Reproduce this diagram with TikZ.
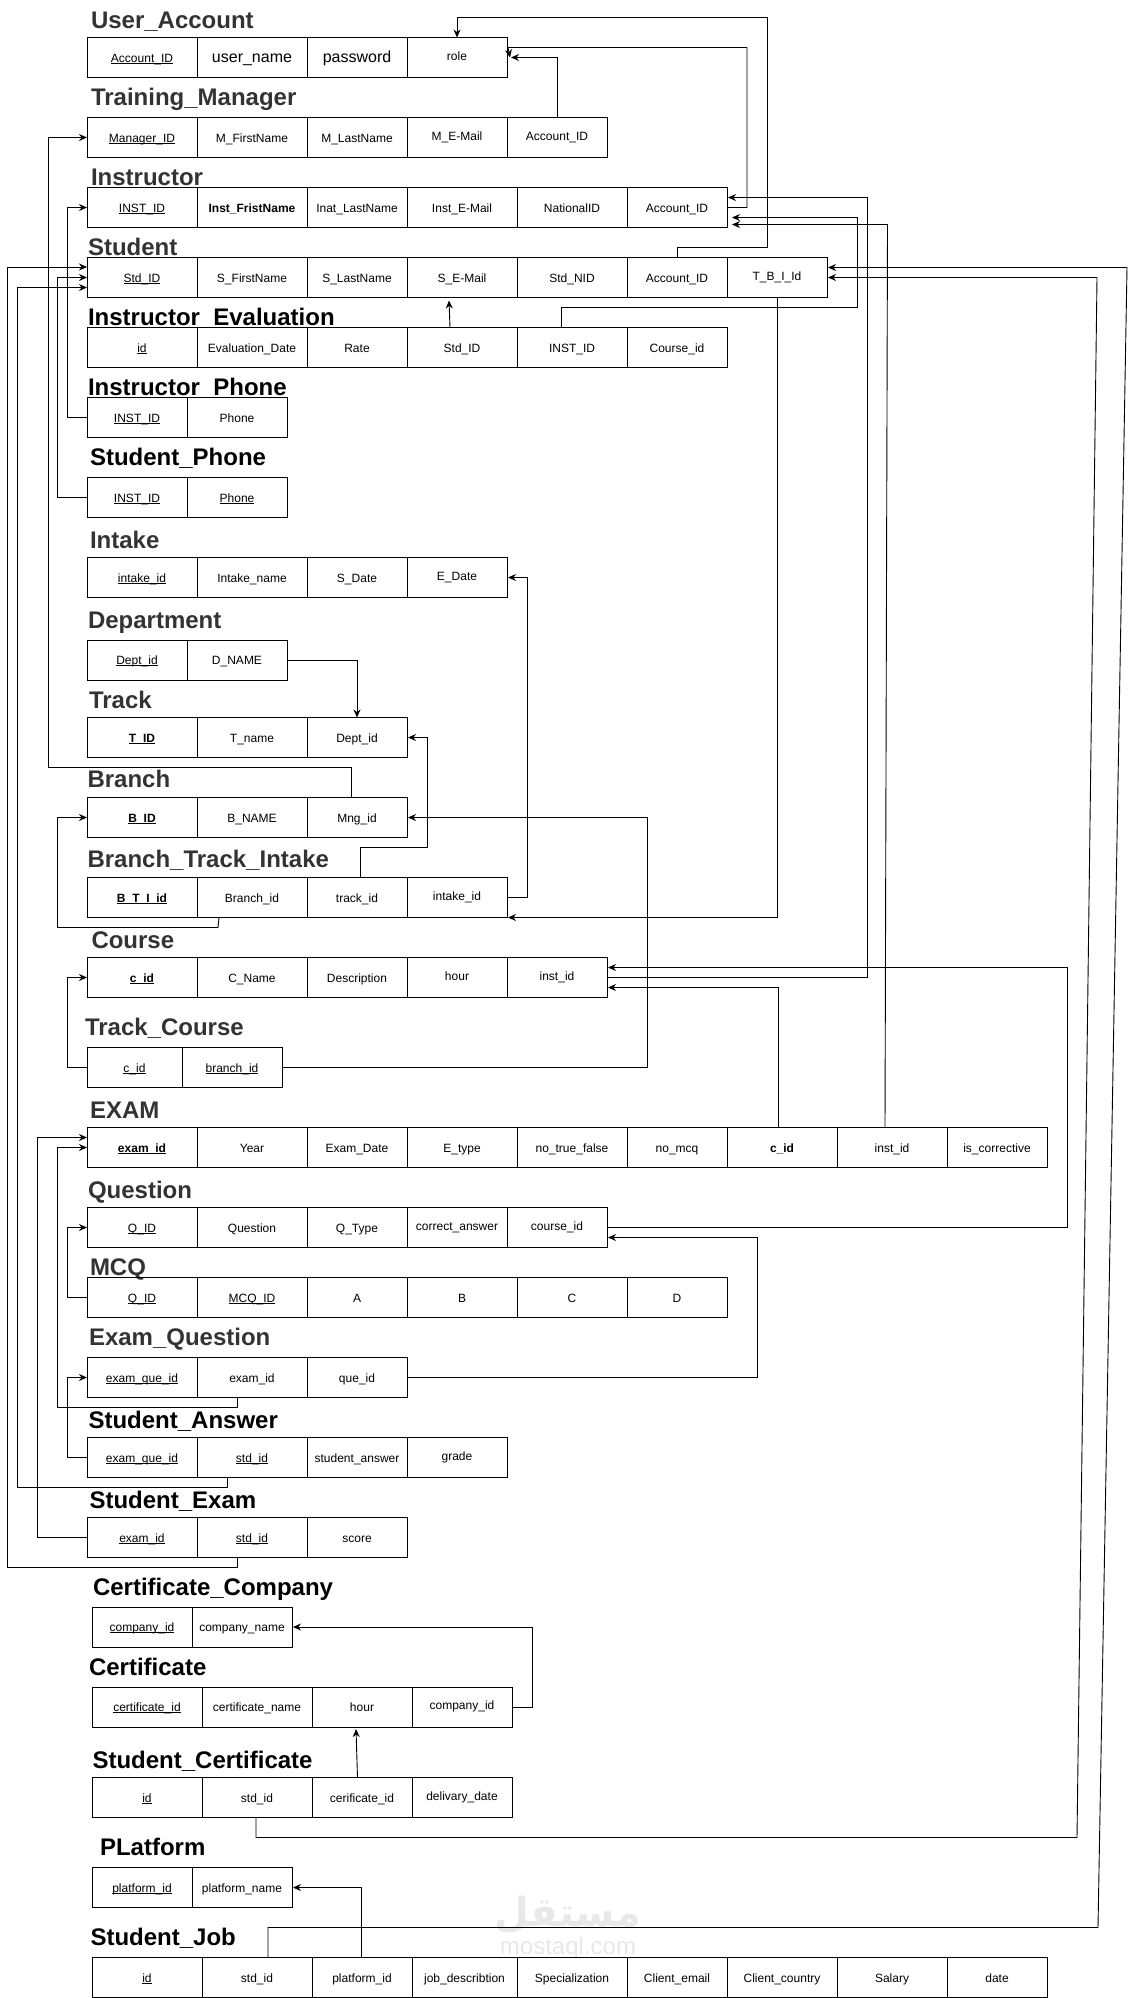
\documentclass[tikz,border=0pt]{standalone}
\usepackage{fontspec}
\setmainfont{Liberation Sans}
\newfontfamily\arabicfont[Script=Arabic]{DejaVu Sans}
\TeXXeTstate=1
\usepackage{xcolor}
\usepackage{tikz}
\usetikzlibrary{arrows.meta, calc}
\definecolor{titlegrey}{RGB}{51,51,51}
\definecolor{markgrey}{RGB}{232,232,232}
\newcommand{\keyattr}[1]{\leavevmode\setbox0\hbox{#1}\rlap{\rule[-1.7pt]{\wd0}{0.8pt}}\box0}
\tikzset{
  cell/.style={rectangle, draw=black, anchor=north west, minimum height=40pt, minimum width=#1pt,
    inner sep=0pt, outer sep=0pt, align=center, font=\fontsize{12}{14}\selectfont, line width=0.9pt,
    text height=11pt, text depth=2pt},
  raised/.style={text height=7pt},
  bigfont/.style={font=\fontsize{16}{18}\selectfont},
  tabletitle/.style={anchor=base west, inner sep=0pt, outer sep=0pt, font=\fontsize{24}{28}\selectfont\bfseries, color=black},
  greytitle/.style={tabletitle, color=titlegrey},
  arrow/.style={-{Stealth[length=8pt,width=7pt]}, line width=0.9pt, color=black},
}

\begin{document}
\begin{tikzpicture}[x=1pt, y=-1pt]
  \useasboundingbox (0,0) rectangle (1136,1998);
  % watermark
  \node[anchor=base, inner sep=0pt, color=markgrey, font=\fontsize{40}{44}\selectfont\bfseries] (markar) at (568,1926) {\arabicfont\beginR مستقل\endR};
  \node[anchor=base, inner sep=0pt, color=markgrey, font=\fontsize{24}{28}\selectfont] (marklat) at (568,1954) {mostaql.com};
  % User_Account
  \node[greytitle] (tua) at (91,28) {User\_Account};
  \node[cell=110] (uaid) at (87,37.5) {\keyattr{Account\_ID}};
  \node[cell=110, bigfont] (uaname) at (197,37.5) {user\_name};
  \node[cell=100, bigfont] (uapass) at (307,37.5) {password};
  \node[cell=100, raised] (uarole) at (407,37.5) {role};
  % Training_Manager
  \node[greytitle] (ttm) at (91,105.5) {Training\_Manager};
  \node[cell=110] (mgid) at (87,117.5) {\keyattr{Manager\_ID}};
  \node[cell=110] (mgfirst) at (197,117.5) {M\_FirstName};
  \node[cell=100] (mglast) at (307,117.5) {M\_LastName};
  \node[cell=100, raised] (mgmail) at (407,117.5) {M\_E-Mail};
  \node[cell=100, raised] (mgacct) at (507,117.5) {Account\_ID};
  % Instructor
  \node[greytitle] (tin) at (91,185.5) {Instructor};
  \node[cell=110] (iid) at (87,187.5) {\keyattr{INST\_ID}};
  \node[cell=110, font=\fontsize{12}{14}\selectfont\bfseries] (ifirst) at (197,187.5) {Inst\_FristName};
  \node[cell=100] (ilast) at (307,187.5) {Inat\_LastName};
  \node[cell=110] (imail) at (407,187.5) {Inst\_E-Mail};
  \node[cell=110] (inat) at (517,187.5) {NationalID};
  \node[cell=100] (iacct) at (627,187.5) {Account\_ID};
  % Student
  \node[greytitle] (tst) at (88,255) {Student};
  \node[cell=110] (sid) at (87,257.5) {\keyattr{Std\_ID}};
  \node[cell=110] (sfirst) at (197,257.5) {S\_FirstName};
  \node[cell=100] (slast) at (307,257.5) {S\_LastName};
  \node[cell=110] (smail) at (407,257.5) {S\_E-Mail};
  \node[cell=110] (snid) at (517,257.5) {Std\_NID};
  \node[cell=100] (sacct) at (627,257.5) {Account\_ID};
  \node[cell=100, raised] (stbi) at (727,257.5) {T\_B\_I\_Id};
  % Instructor_Evaluation
  \node[tabletitle] (tie) at (88,325) {Instructor\_Evaluation};
  \node[cell=110] (ieid) at (87,327.5) {\keyattr{id}};
  \node[cell=110] (iedate) at (197,327.5) {Evaluation\_Date};
  \node[cell=100] (ierate) at (307,327.5) {Rate};
  \node[cell=110] (iestd) at (407,327.5) {Std\_ID};
  \node[cell=110] (ieinst) at (517,327.5) {INST\_ID};
  \node[cell=100] (iecourse) at (627,327.5) {Course\_id};
  % Instructor_Phone
  \node[tabletitle] (tip) at (88,395) {Instructor\_Phone};
  \node[cell=100] (ipid) at (87,397.5) {\keyattr{INST\_ID}};
  \node[cell=100] (ipphone) at (187,397.5) {Phone};
  % Student_Phone
  \node[tabletitle] (tsp) at (90,465) {Student\_Phone};
  \node[cell=100] (spid) at (87,477.5) {\keyattr{INST\_ID}};
  \node[cell=100] (spphone) at (187,477.5) {\keyattr{Phone}};
  % Intake
  \node[greytitle] (tik) at (90,548) {Intake};
  \node[cell=110] (inid) at (87,557.5) {\keyattr{intake\_id}};
  \node[cell=110] (inname) at (197,557.5) {Intake\_name};
  \node[cell=100] (insdate) at (307,557.5) {S\_Date};
  \node[cell=100, raised] (inedate) at (407,557.5) {E\_Date};
  % Department
  \node[greytitle] (tdp) at (88,628) {Department};
  \node[cell=100] (did) at (87,640) {\keyattr{Dept\_id}};
  \node[cell=100] (dname) at (187,640) {D\_NAME};
  % Track
  \node[greytitle] (ttr) at (89,708) {Track};
  \node[cell=110, font=\fontsize{12}{14}\selectfont\bfseries] (tid) at (87,717.5) {\keyattr{T\_ID}};
  \node[cell=110] (tname) at (197,717.5) {T\_name};
  \node[cell=100] (tdept) at (307,717.5) {Dept\_id};
  % Branch
  \node[greytitle] (tbr) at (87.5,787.5) {Branch};
  \node[cell=110, font=\fontsize{12}{14}\selectfont\bfseries] (bid) at (87,797.5) {\keyattr{B\_ID}};
  \node[cell=110] (bname) at (197,797.5) {B\_NAME};
  \node[cell=100] (bmng) at (307,797.5) {Mng\_id};
  % Branch_Track_Intake
  \node[greytitle] (tbt) at (87.5,867.5) {Branch\_Track\_Intake};
  \node[cell=110, font=\fontsize{12}{14}\selectfont\bfseries] (btiid) at (87,877.5) {\keyattr{B\_T\_I\_id}};
  \node[cell=110] (btibranch) at (197,877.5) {Branch\_id};
  \node[cell=100] (btitrack) at (307,877.5) {track\_id};
  \node[cell=100, raised] (btiintake) at (407,877.5) {intake\_id};
  % Course
  \node[greytitle] (tco) at (91.5,948) {Course};
  \node[cell=110, font=\fontsize{12}{14}\selectfont\bfseries] (cid) at (87,957.5) {\keyattr{c\_id}};
  \node[cell=110] (cname) at (197,957.5) {C\_Name};
  \node[cell=100] (cdesc) at (307,957.5) {Description};
  \node[cell=100, raised] (chour) at (407,957.5) {hour};
  \node[cell=100, raised] (cinst) at (507,957.5) {inst\_id};
  % Track_Course
  \node[greytitle] (ttc) at (85,1035) {Track\_Course};
  \node[cell=95] (tccid) at (87,1047.5) {\keyattr{c\_id}};
  \node[cell=100] (tcbranch) at (182,1047.5) {\keyattr{branch\_id}};
  % EXAM
  \node[greytitle] (tex) at (90,1118) {EXAM};
  \node[cell=110, font=\fontsize{12}{14}\selectfont\bfseries] (eid) at (87,1127.5) {\keyattr{exam\_id}};
  \node[cell=110] (eyear) at (197,1127.5) {Year};
  \node[cell=100] (edate) at (307,1127.5) {Exam\_Date};
  \node[cell=110] (etype) at (407,1127.5) {E\_type};
  \node[cell=110] (etf) at (517,1127.5) {no\_true\_false};
  \node[cell=100] (emcq) at (627,1127.5) {no\_mcq};
  \node[cell=110, font=\fontsize{12}{14}\selectfont\bfseries] (ecid) at (727,1127.5) {c\_id};
  \node[cell=110] (einst) at (837,1127.5) {inst\_id};
  \node[cell=100] (ecorr) at (947,1127.5) {is\_corrective};
  % Question
  \node[greytitle] (tqu) at (88,1198) {Question};
  \node[cell=110] (qid) at (87,1207.5) {\keyattr{Q\_ID}};
  \node[cell=110] (qtext) at (197,1207.5) {Question};
  \node[cell=100] (qtype) at (307,1207.5) {Q\_Type};
  \node[cell=100, raised] (qans) at (407,1207.5) {correct\_answer};
  \node[cell=100, raised] (qcourse) at (507,1207.5) {course\_id};
  % MCQ
  \node[greytitle] (tmc) at (90,1275) {MCQ};
  \node[cell=110] (mqid) at (87,1277.5) {\keyattr{Q\_ID}};
  \node[cell=110] (mcid) at (197,1277.5) {\keyattr{MCQ\_ID}};
  \node[cell=100] (mca) at (307,1277.5) {A};
  \node[cell=110] (mcb) at (407,1277.5) {B};
  \node[cell=110] (mcc) at (517,1277.5) {C};
  \node[cell=100] (mcd) at (627,1277.5) {D};
  % Exam_Question
  \node[greytitle] (teq) at (89,1345) {Exam\_Question};
  \node[cell=110] (eqid) at (87,1357.5) {\keyattr{exam\_que\_id}};
  \node[cell=110] (eqexam) at (197,1357.5) {exam\_id};
  \node[cell=100] (eqque) at (307,1357.5) {que\_id};
  % Student_Answer
  \node[tabletitle] (tsa) at (88.5,1428.5) {Student\_Answer};
  \node[cell=110] (saque) at (87,1437.5) {\keyattr{exam\_que\_id}};
  \node[cell=110] (sastd) at (197,1437.5) {\keyattr{std\_id}};
  \node[cell=100] (saans) at (307,1437.5) {student\_answer};
  \node[cell=100, raised] (sagrade) at (407,1437.5) {grade};
  % Student_Exam
  \node[tabletitle] (tse) at (89.5,1508.5) {Student\_Exam};
  \node[cell=110] (seexam) at (87,1517.5) {\keyattr{exam\_id}};
  \node[cell=110] (sestd) at (197,1517.5) {\keyattr{std\_id}};
  \node[cell=100] (sescore) at (307,1517.5) {score};
  % Certificate_Company
  \node[tabletitle] (tcc) at (93,1595) {Certificate\_Company};
  \node[cell=100] (ccid) at (92,1607) {\keyattr{company\_id}};
  \node[cell=100] (ccname) at (192,1607) {company\_name};
  % Certificate
  \node[tabletitle] (tce) at (89,1675) {Certificate};
  \node[cell=110] (ceid) at (92,1687) {\keyattr{certificate\_id}};
  \node[cell=110] (cename) at (202,1687) {certificate\_name};
  \node[cell=100] (cehour) at (312,1687) {hour};
  \node[cell=100, raised] (cecomp) at (412,1687) {company\_id};
  % Student_Certificate
  \node[tabletitle] (tsc) at (92.5,1768.5) {Student\_Certificate};
  \node[cell=110] (scid) at (92,1777.5) {\keyattr{id}};
  \node[cell=110] (scstd) at (202,1777.5) {std\_id};
  \node[cell=100] (sccert) at (312,1777.5) {cerificate\_id};
  \node[cell=100, raised] (scdate) at (412,1777.5) {delivary\_date};
  % PLatform
  \node[tabletitle] (tpl) at (100,1855) {PLatform};
  \node[cell=100] (plid) at (92,1867.5) {\keyattr{platform\_id}};
  \node[cell=100] (plname) at (192,1867.5) {platform\_name};
  % Student_Job
  \node[tabletitle] (tsj) at (90.5,1945) {Student\_Job};
  \node[cell=110] (sjid) at (92,1957.5) {\keyattr{id}};
  \node[cell=110] (sjstd) at (202,1957.5) {std\_id};
  \node[cell=100] (sjplat) at (312,1957.5) {platform\_id};
  \node[cell=105] (sjdesc) at (412,1957.5) {job\_describtion};
  \node[cell=110] (sjspec) at (517,1957.5) {Specialization};
  \node[cell=100] (sjmail) at (627,1957.5) {Client\_email};
  \node[cell=110] (sjcountry) at (727,1957.5) {Client\_country};
  \node[cell=110] (sjsal) at (837,1957.5) {Salary};
  \node[cell=100] (sjdate) at (947,1957.5) {date};
  % links into User_Account
  \draw[arrow] (sacct.north) |- (767,247) -- (767,17.5) -| (uarole.north);
  \draw[arrow] (iacct.east) -| (747,47.5) -- ($(uarole.east)+(1,-10)$) -- ($(uarole.east)+(3,0)$);
  \draw[arrow] (mgacct.north) |- ($(uarole.east)+(4,0)$);
  % links on the left side
  \draw[arrow] ([xshift=-6pt]bmng.north) |- (48,767) |- (mgid.west);
  \draw[arrow] (ipid.west) -- (67,417.5) |- (iid.west);
  \draw[arrow] (spid.west) -- (57,497.5) |- (sid.west);
  \draw[arrow] ([xshift=-15pt]sestd.south) |- (7,1567.5) |- ($(sid.west)+(0,-10.5)$);
  \draw[arrow] ([xshift=-24.5pt]sastd.south) |- (17.5,1487.5) |- ($(sid.west)+(0,10)$);
  \draw[arrow] ([xshift=-33pt]btibranch.south) -- (218,927.5) -- (57.5,927.5) |- (bid.west);
  \draw[arrow] (tccid.west) -- (67.5,1067.5) |- (cid.west);
  \draw[arrow] (seexam.west) -- (37.5,1537.5) |- ($(eid.west)+(0,-10)$);
  \draw[arrow] ([xshift=-15pt]eqexam.south) |- (57.5,1407.5) |- (eid.west);
  \draw[arrow] (mqid.west) -- (67.5,1297.5) |- (qid.west);
  \draw[arrow] (saque.west) -- (67.5,1457.5) |- (eqid.west);
  % Instructor links
  \draw[arrow] ([xshift=-12pt]iestd.north) -- ($(smail.south)+(-13,3)$);
  \draw[arrow] ([xshift=-10.5pt]ieinst.north) |- (857,307.5) |- ($(iacct.east)+(5,10)$);
  \draw[arrow] (cinst.east) -| (867,197.5) -- ($(iacct.east)+(1,-10)$);
  \draw[arrow] ([xshift=-7pt]einst.north) -- (887.5,224.5) -- ($(iacct.east)+(5,17)$);
  % Track, Department, Intake, Branch links
  \draw[arrow] (dname.east) -| (tdept.north);
  \draw[arrow] ([xshift=3pt]btitrack.north) |- (427,847.5) |- ($(tdept.east)+(1,0)$);
  \draw[arrow] (btiintake.east) -| (527,577.5) -- ($(inedate.east)+(1,0)$);
  \draw[arrow] (stbi.south) |- ($(btiintake.south east)+(1,0)$);
  \draw[arrow] (tcbranch.east) -| (647,817.5) -- ($(bmng.east)+(1,0)$);
  % Course and Question links
  \draw[arrow] ([xshift=-4pt]ecid.north) |- ($(cinst.east)+(1,10)$);
  \draw[arrow] (qcourse.east) -| (1067,967.5) -- ($(cinst.east)+(1,-10)$);
  \draw[arrow] (eqque.east) -| (757,1237.5) -- ($(qcourse.east)+(1,10)$);
  % Certificate links
  \draw[arrow] (cecomp.east) -| (532,1627) -- ($(ccname.east)+(1,0)$);
  \draw[arrow] ([xshift=-4.5pt]sccert.north) -- ([xshift=-6pt,yshift=-2pt]cehour.south);
  % Student links, slightly slanted on the far right
  \draw[arrow] ([xshift=-1pt]scstd.south) |- (1077,1837.5) -- (1097,277.5) -- ($(stbi.east)+(1,0)$);
  \draw[arrow] ([xshift=11pt]sjstd.north) |- (1098,1927.5) -- (1127,267.5) -- ($(stbi.east)+(1,-10)$);
  \draw[arrow] ([xshift=-1pt]sjplat.north) |- ($(plname.east)+(1,0)$);
\end{tikzpicture}
\end{document}
